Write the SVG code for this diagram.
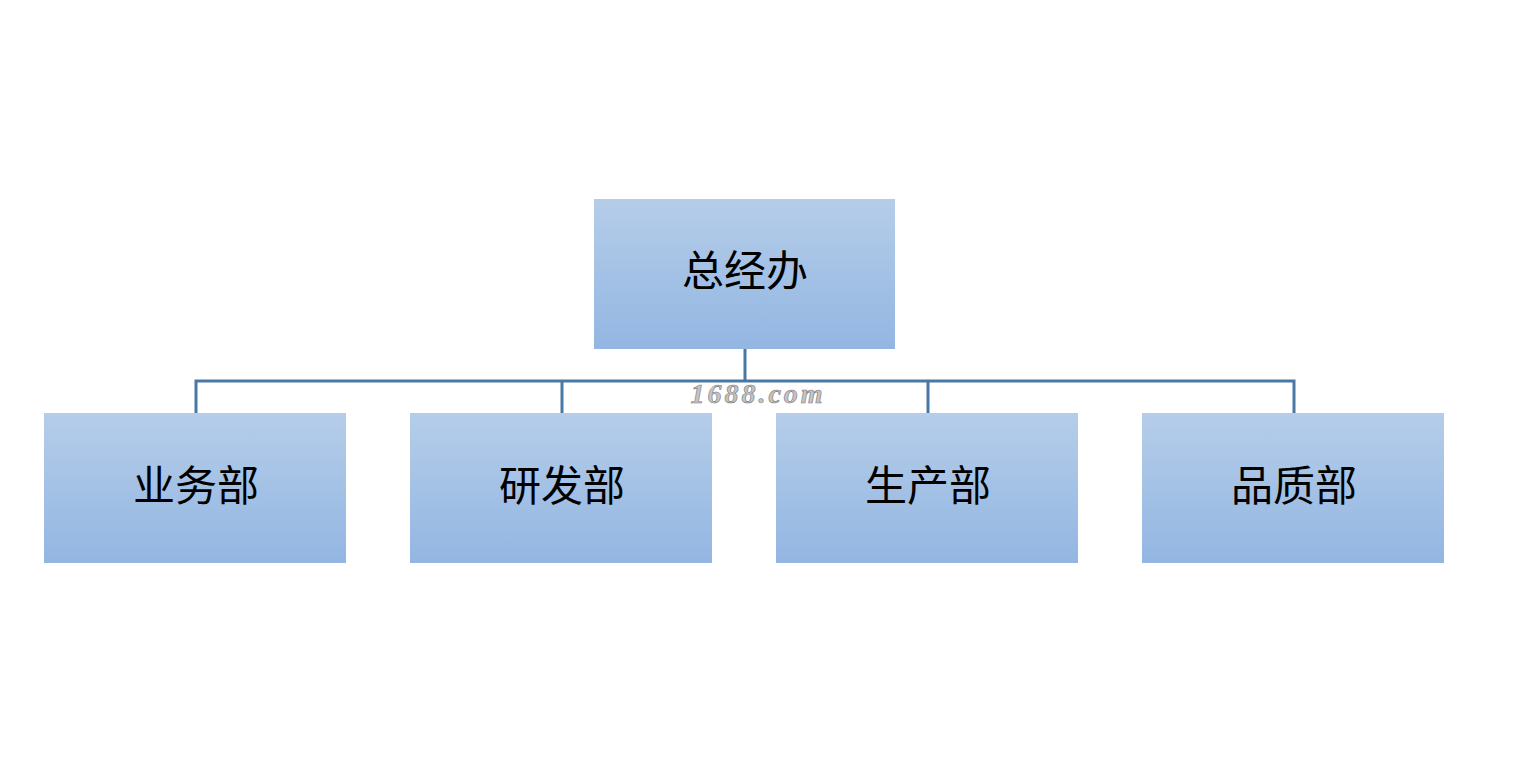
<svg xmlns="http://www.w3.org/2000/svg" width="1513" height="781" viewBox="0 0 1513 781">
<defs>
<linearGradient id="g" x1="0" y1="0" x2="0" y2="1">
<stop offset="0" stop-color="#b5cde9"/>
<stop offset="1" stop-color="#93b6e2"/>
</linearGradient>
<style>
.box{fill:url(#g);}
.lbl{font-family:"Liberation Serif","Noto Sans CJK SC",serif;font-size:42px;fill:#000;text-anchor:middle;dominant-baseline:central;}
.conn{fill:none;stroke:#4a78a4;stroke-width:3;}
.wm{font-family:"Liberation Serif",serif;font-style:italic;font-weight:bold;font-size:28px;fill:#c4c4c4;stroke:#7a7a7a;stroke-width:0.6;letter-spacing:3px;text-anchor:middle;}
</style>
</defs>
<rect width="1513" height="781" fill="#ffffff"/>
<g id="connectors">
<path class="conn" d="M745 349 V381 M196 413 V381 H1294 V413 M562 381 V413 M928 381 V413"/>
</g>
<g id="n0"><rect class="box" x="594" y="199" width="301" height="150"/><text class="lbl" x="745" y="272">总经办</text></g>
<g id="n1"><rect class="box" x="44" y="413" width="302" height="150"/><text class="lbl" x="196" y="487">业务部</text></g>
<g id="n2"><rect class="box" x="410" y="413" width="302" height="150"/><text class="lbl" x="562" y="487">研发部</text></g>
<g id="n3"><rect class="box" x="776" y="413" width="302" height="150"/><text class="lbl" x="928" y="487">生产部</text></g>
<g id="n4"><rect class="box" x="1142" y="413" width="302" height="150"/><text class="lbl" x="1294" y="487">品质部</text></g>
<text class="wm" x="758" y="403">1688.com</text>
</svg>
